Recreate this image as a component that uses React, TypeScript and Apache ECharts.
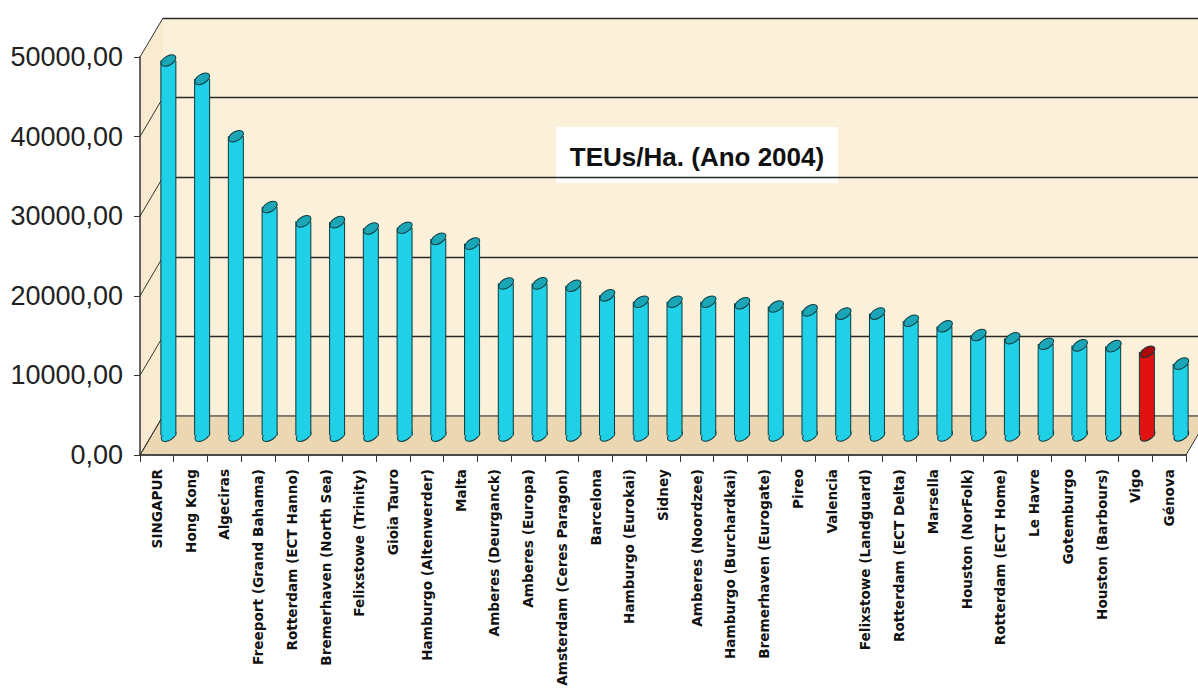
import React, { useEffect, useRef } from "react";
import * as echarts from "echarts";

const categories = [
  "SINGAPUR", "Hong Kong", "Algeciras", "Freeport (Grand Bahama)", "Rotterdam (ECT Hanno)",
  "Bremerhaven (North Sea)", "Felixstowe (Trinity)", "Gioia Tauro", "Hamburgo (Altenwerder)", "Malta",
  "Amberes (Deurganck)", "Amberes (Europa)", "Amsterdam (Ceres Paragon)", "Barcelona", "Hamburgo (Eurokai)",
  "Sidney", "Amberes (Noordzee)", "Hamburgo (Burchardkai)", "Bremerhaven (Eurogate)", "Pireo",
  "Valencia", "Felixstowe (Landguard)", "Rotterdam (ECT Delta)", "Marsella", "Houston (NorFolk)",
  "Rotterdam (ECT Home)", "Le Havre", "Gotemburgo", "Houston (Barbours)", "Vigo", "Génova",
];

const values = [
  47100, 44800, 37600, 28700, 26900,
  26800, 26000, 26100, 24700, 24100,
  19100, 19100, 18800, 17600, 16800,
  16800, 16800, 16600, 16200, 15700,
  15300, 15300, 14400, 13700, 12600,
  12200, 11500, 11300, 11200, 10500, 9000,
];

const highlighted = ["Vigo"];

const yTicks = [0, 10000, 20000, 30000, 40000, 50000];
const titleText = "TEUs/Ha. (Ano 2004)";

// layout
const FRONT = { left: 140, top: 57, width: 1046, height: 398 };
const DX = 23;
const DY = -39;
const Y_MAX = 50000;

const CYAN = "#1fd0e6";
const CYAN_TOP = "#1aa6b6";
const RED = "#e01212";
const RED_TOP = "#a80a0a";
const EDGE = "#10393d";

export default function App() {
  const ref = useRef<HTMLDivElement>(null);

  useEffect(() => {
    if (!ref.current) return;
    const chart = echarts.init(ref.current, undefined, { renderer: "svg" });

    const mid = { left: FRONT.left + DX / 2, top: FRONT.top + DY / 2, width: FRONT.width, height: FRONT.height };
    const back = { left: FRONT.left + DX, top: FRONT.top + DY, width: FRONT.width, height: FRONT.height };
    const fBottom = FRONT.top + FRONT.height;
    const bBottom = back.top + back.height;
    const fRight = FRONT.left + FRONT.width;
    const pxPer = FRONT.height / Y_MAX;

    const wallLines = yTicks.map((t) => ({
      type: "line",
      z: 1,
      silent: true,
      shape: {
        x1: FRONT.left,
        y1: fBottom - t * pxPer,
        x2: back.left,
        y2: bBottom - t * pxPer,
      },
      style: { stroke: "#333", lineWidth: 1 },
    }));

    const data = values.map((v, i) => [i, v, highlighted.includes(categories[i]) ? 1 : 0]);

    const option: any = {
      animation: false,
      backgroundColor: "#ffffff",
      grid: [
        { ...FRONT, containLabel: false },
        { ...mid, containLabel: false },
        { ...back, containLabel: false, show: true, backgroundColor: "#fbf0d9", borderWidth: 0 },
      ],
      xAxis: [
        {
          type: "category",
          gridIndex: 0,
          data: categories,
          boundaryGap: true,
          axisLine: { show: true, lineStyle: { color: "#333", width: 1.5 } },
          axisTick: { show: true, length: 7, lineStyle: { color: "#333" }, interval: 0 },
          axisLabel: {
            interval: 0,
            rotate: 90,
            margin: 14,
            fontFamily: "DejaVu Sans",
            fontWeight: "bold",
            fontSize: 13.6,
            color: "#111",
          },
          z: 5,
        },
        {
          type: "category",
          gridIndex: 1,
          data: categories,
          boundaryGap: true,
          show: false,
        },
        {
          type: "category",
          gridIndex: 2,
          data: categories,
          boundaryGap: true,
          show: false,
        },
      ],
      yAxis: [
        {
          type: "value",
          gridIndex: 0,
          min: 0,
          max: Y_MAX,
          interval: 10000,
          axisLine: { show: true, lineStyle: { color: "#333", width: 1.5 } },
          axisTick: { show: true, length: 6, lineStyle: { color: "#333" } },
          splitLine: { show: false },
          axisLabel: {
            margin: 17,
            fontFamily: "Liberation Sans",
            fontSize: 27,
            color: "#222",
            formatter: (v: number) => v.toFixed(2).replace(".", ","),
          },
          z: 5,
        },
        {
          type: "value",
          gridIndex: 1,
          min: 0,
          max: Y_MAX,
          interval: 10000,
          show: false,
        },
        {
          type: "value",
          gridIndex: 2,
          min: 0,
          max: Y_MAX,
          interval: 10000,
          axisLine: { show: false },
          axisTick: { show: false },
          axisLabel: { show: false },
          splitLine: { show: true, lineStyle: { color: "#2a2a2a", width: 1.3 } },
        },
      ],
      graphic: [
        {
          type: "polygon",
          z: 1,
          silent: true,
          shape: {
            points: [
              [FRONT.left, fBottom],
              [FRONT.left, FRONT.top],
              [back.left, back.top],
              [back.left, bBottom],
            ],
          },
          style: { fill: "#f8ebcf", stroke: "none" },
        },
        {
          type: "polygon",
          z: 1,
          silent: true,
          shape: {
            points: [
              [FRONT.left, fBottom],
              [fRight, fBottom],
              [fRight + DX, bBottom],
              [back.left, bBottom],
            ],
          },
          style: { fill: "#ebd7b2", stroke: "#333", lineWidth: 1 },
        },
        ...wallLines,
        {
          type: "group",
          z: 10,
          children: [
            {
              type: "rect",
              shape: { x: 556, y: 127, width: 282, height: 56 },
              style: { fill: "#ffffff" },
            },
            {
              type: "text",
              x: 697,
              y: 157,
              style: {
                text: titleText,
                font: 'bold 26px "Liberation Sans", Arial, sans-serif',
                fill: "#111",
                align: "center",
                verticalAlign: "middle",
                textAlign: "center",
                textVerticalAlign: "middle",
              },
            },
          ],
        },
      ],
      series: [
        {
          type: "custom",
          xAxisIndex: 1,
          yAxisIndex: 1,
          z: 4,
          data,
          encode: { x: 0, y: 1 },
          renderItem: (params: any, api: any) => {
            const i = api.value(0);
            const v = api.value(1);
            const hi = api.value(2) === 1;
            const base = api.coord([i, 0]);
            const top = api.coord([i, v]);
            const x = base[0];
            const w = 15;
            const rx = 8.2;
            const ry = 4.6;
            const rot = 0.55;
            const body = hi ? RED : CYAN;
            const cap = hi ? RED_TOP : CYAN_TOP;
            return {
              type: "group",
              children: [
                {
                  type: "ellipse",
                  shape: { cx: x, cy: base[1], rx, ry },
                  rotation: rot,
                  originX: x,
                  originY: base[1],
                  style: { fill: body, stroke: EDGE, lineWidth: 1 },
                },
                {
                  type: "rect",
                  shape: { x: x - w / 2, y: top[1], width: w, height: base[1] - top[1] },
                  style: { fill: body, stroke: "none" },
                },
                {
                  type: "line",
                  shape: { x1: x - w / 2, y1: top[1], x2: x - w / 2, y2: base[1] },
                  style: { stroke: EDGE, lineWidth: 1 },
                },
                {
                  type: "line",
                  shape: { x1: x + w / 2, y1: top[1], x2: x + w / 2, y2: base[1] },
                  style: { stroke: EDGE, lineWidth: 1 },
                },
                {
                  type: "ellipse",
                  shape: { cx: x, cy: top[1], rx, ry },
                  rotation: rot,
                  originX: x,
                  originY: top[1],
                  style: { fill: cap, stroke: EDGE, lineWidth: 1 },
                },
              ],
            };
          },
        },
      ],
    };

    chart.setOption(option);
    return () => chart.dispose();
  }, []);

  return (
    <div
      ref={ref}
      style={{ position: "absolute", left: 0, top: 0, width: 1198, height: 695 }}
    />
  );
}
